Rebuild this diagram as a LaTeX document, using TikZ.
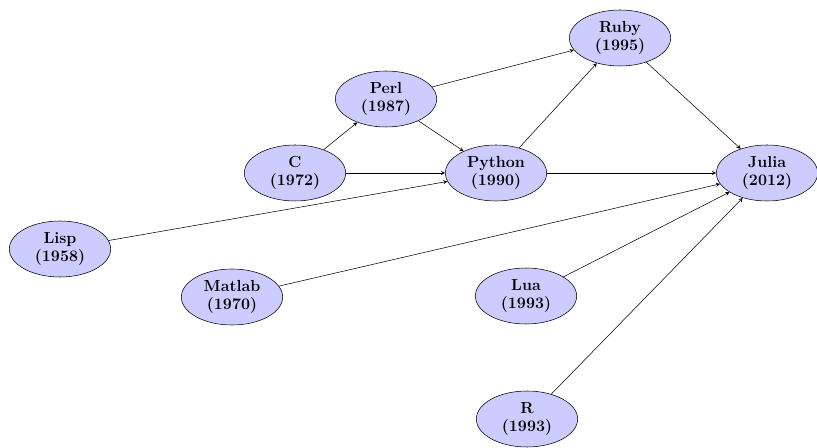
\documentclass[tikz,border=0pt]{standalone}
\usetikzlibrary{shapes.geometric}
\begin{document}
\begin{tikzpicture}[x=0.75pt, y=-0.75pt, >=stealth, font=\large\bfseries,
		lang/.style={ellipse, draw, fill=blue!20, minimum width=76pt, minimum height=42pt, inner sep=0pt, align=center}]
		\useasboundingbox (0,0) rectangle (817,448);
		\node[lang] (ruby) at (620,38) {Ruby\\(1995)};
		\node[lang] (perl) at (386,99) {Perl\\(1987)};
		\node[lang] (c) at (295,173) {C\\(1972)};
		\node[lang] (python) at (496,173) {Python\\(1990)};
		\node[lang] (julia) at (767,173) {Julia\\(2012)};
		\node[lang] (lisp) at (60,249) {Lisp\\(1958)};
		\node[lang] (matlab) at (232,297) {Matlab\\(1970)};
		\node[lang] (lua) at (526,296) {Lua\\(1993)};
		\node[lang] (r) at (527,419) {R\\(1993)};
		\draw[->] (c)--(perl);
		\draw[->] (c)--(python);
		\draw[->] (perl)--(ruby);
		\draw[->] (perl)--(python);
		\draw[->] (python)--(ruby);
		\draw[->] (python)--(julia);
		\draw[->] (ruby)--(julia);
		\draw[->] (lisp)--(python);
		\draw[->] (matlab)--(julia);
		\draw[->] (lua)--(julia);
		\draw[->] (r)--(julia);
\end{tikzpicture}
\end{document}
